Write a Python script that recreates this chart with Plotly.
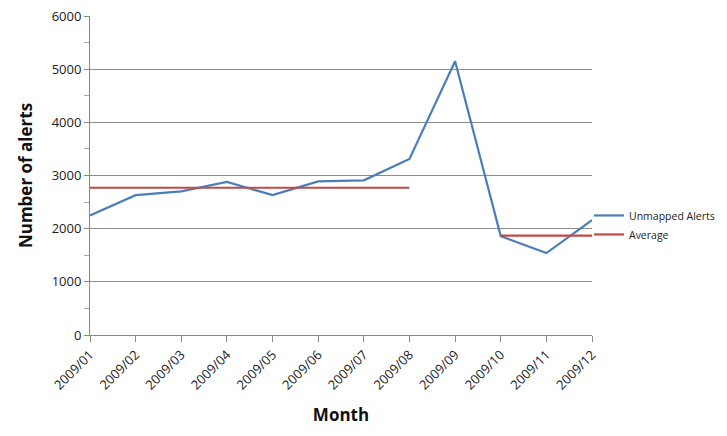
import plotly.graph_objects as go

months = ["2009/01", "2009/02", "2009/03", "2009/04", "2009/05", "2009/06",
          "2009/07", "2009/08", "2009/09", "2009/10", "2009/11", "2009/12"]
unmapped_alerts = [2250, 2630, 2700, 2880, 2630, 2890, 2910, 3310, 5150, 1860, 1540, 2160]
average = [2770, 2770, 2770, 2770, 2770, 2770, 2770, 2770, None, 1870, 1870, 1870]
y_ticks = [0, 1000, 2000, 3000, 4000, 5000, 6000]

font = "Open Sans, Liberation Sans, sans-serif"

fig = go.Figure()
fig.add_trace(go.Scatter(x=months, y=unmapped_alerts, mode="lines", name="Unmapped Alerts",
                         line=dict(color="#4A7EBB", width=2.2)))
fig.add_trace(go.Scatter(x=months, y=average, mode="lines", name="Average",
                         line=dict(color="#BE4B48", width=2.2), connectgaps=False))

fig.update_layout(
    width=719, height=428,
    margin=dict(l=82, r=135, t=8, b=101, autoexpand=False),
    plot_bgcolor="white", paper_bgcolor="white",
    font=dict(family=font, size=12, color="#222"),
    legend=dict(x=0.994, y=0.345, xanchor="left", yanchor="middle",
                font=dict(size=10.5, color="#222"), tracegroupgap=4,
                bgcolor="rgba(0,0,0,0)"),
    xaxis=dict(
        title=dict(text="<b>Month</b>", font=dict(size=17, color="#111"), standoff=16),
        type="category", range=[0, 11], tickangle=-45, automargin=False,
        showline=True, linecolor="#888", linewidth=1,
        ticks="outside", ticklen=6, tickcolor="#888",
        showgrid=False, tickfont=dict(size=13), ticklabeloverflow="allow",
    ),
    yaxis=dict(
        title=dict(text="<b>Number of alerts</b>", font=dict(size=17, color="#111"), standoff=14),
        range=[0, 6000], tickvals=y_ticks, automargin=False,
        showline=True, linecolor="#888", linewidth=1,
        ticks="outside", ticklen=5, tickcolor="#888",
        showgrid=True, gridcolor="#8c8c8c", gridwidth=1,
        zeroline=False, tickfont=dict(size=13), ticklabeloverflow="allow",
        minor=dict(dtick=500, ticks="outside", ticklen=5, tickcolor="#aaa", showgrid=False),
    ),
)

fig.write_html("out.html")
